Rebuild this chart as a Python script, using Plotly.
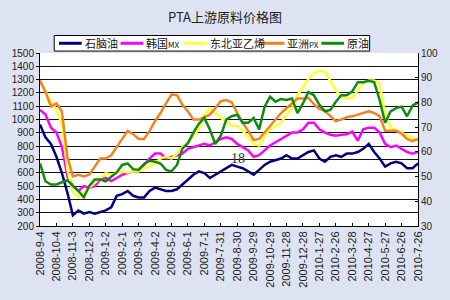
import pandas as pd
import plotly.graph_objects as go

# sample days from 2008-9-4 (every 10 days)
start = pd.Timestamp("2008-09-04")
day_offsets = list(range(0, 700, 10))
dates = [start + pd.Timedelta(days=d) for d in day_offsets]

naphtha = [963, 866, 817, 720, 598, 451, 280, 317, 293, 305, 293, 305, 317, 341, 427, 439, 463, 427, 415, 415,
           463, 488, 476, 463, 463, 476, 512, 549, 585, 610, 598, 561, 585, 610, 634, 659, 646, 634, 610, 585,
           622, 659, 683, 695, 707, 732, 707, 707, 732, 756, 768, 707, 683, 720, 732, 720, 744, 744, 756, 780,
           817, 756, 707, 646, 671, 683, 671, 634, 634, 671]
korea_mx = [1073, 1037, 939, 902, 793, 573, 500, 463, 500, 488, 500, 549, 561, 537, 561, 585, 598, 610, 622, 659,
            707, 744, 744, 707, 720, 732, 744, 780, 793, 805, 817, 805, 829, 854, 866, 854, 817, 793, 768, 720,
            732, 768, 805, 829, 854, 878, 902, 902, 927, 976, 976, 927, 902, 885, 878, 885, 890, 910, 841, 927,
            939, 939, 902, 817, 793, 805, 780, 756, 744, 756]
ne_asia_ethylene = [1293, 1207, 1134, 1073, 963, 622, 451, 415, 451, 488, 524, 561, 598, 585, 598, 610, 602, 610, 610, 634,
                    646, 671, 707, 720, 707, 744, 793, 829, 878, 927, 1037, 1085, 1049, 1012, 988, 951, 951, 915, 866, 817,
                    805, 878, 927, 951, 976, 1037, 1085, 1183, 1244, 1305, 1349, 1366, 1359, 1293, 1220, 1171, 1158, 1158, 1220, 1268,
                    1293, 1293, 1268, 1037, 939, 920, 902, 885, 861, 841]
asia_px = [1293, 1207, 1098, 1122, 1061, 720, 573, 585, 573, 585, 646, 707, 707, 732, 793, 854, 915, 890, 854, 854,
           915, 988, 1049, 1122, 1188, 1183, 1110, 1061, 1000, 1000, 1017, 1037, 1085, 1139, 1146, 1129, 1049, 976, 915, 846,
           854, 902, 951, 1000, 1049, 1085, 1122, 1159, 1159, 1163, 1115, 1080, 1066, 1024, 988, 1000, 1017, 1024, 1037, 1049,
           1061, 1049, 1024, 915, 915, 915, 895, 854, 837, 854]
crude = [55.3, 48.1, 46.8, 46.8, 47.7, 48.5, 46.2, 44.2, 41.6, 46.2, 48.8, 48.8, 48.1, 50.1, 51.7, 54.7, 55.3, 53.0, 52.7, 55.1,
         56.4, 56.0, 55.3, 52.7, 52.1, 54.7, 61.3, 63.5, 67.8, 71.4, 73.7, 69.1, 63.2, 66.5, 73.1, 74.4, 75.0, 71.8, 71.8, 73.7,
         69.1, 78.3, 82.3, 80.3, 81.4, 81.0, 81.6, 75.7, 79.6, 84.2, 82.9, 79.0, 76.4, 77.0, 80.3, 82.9, 82.9, 84.5, 88.2, 88.2,
         88.8, 88.2, 81.0, 71.8, 76.4, 77.7, 78.3, 74.4, 78.7, 80.0]

tick_labels = ["2008-9-4", "2008-10-4", "2008-11-3", "2008-12-3", "2009-1-2", "2009-2-1", "2009-3-3",
               "2009-4-2", "2009-5-2", "2009-6-1", "2009-7-1", "2009-7-31", "2009-8-30", "2009-9-29",
               "2009-10-29", "2009-11-28", "2009-12-28", "2010-1-27", "2010-2-26", "2010-3-28",
               "2010-4-27", "2010-5-27", "2010-6-26", "2010-7-26"]
tick_dates = [pd.Timestamp(t) for t in ["2008-09-04", "2008-10-04", "2008-11-03", "2008-12-03", "2009-01-02",
              "2009-02-01", "2009-03-03", "2009-04-02", "2009-05-02", "2009-06-01", "2009-07-01", "2009-07-31",
              "2009-08-30", "2009-09-29", "2009-10-29", "2009-11-28", "2009-12-28", "2010-01-27", "2010-02-26",
              "2010-03-28", "2010-04-27", "2010-05-27", "2010-06-26", "2010-07-26"]]

names = ["石脑油", "韩国MX", "东北亚乙烯", "亚洲PX", "原油"]
legend_labels = ["石脑油", "韩国<span style='font-size:8px'>MX</span>", "东北亚乙烯",
                 "亚洲<span style='font-size:8px'>PX</span>", "原油"]
colors = ["#000080", "#ff00ff", "#ffff33", "#f58220", "#108a10"]

W, H = 450, 300
ML, MR, MT, MB = 28, 23, 53, 69
PW, PH = W - ML - MR, H - MT - MB


def px_x(p):
    return (p - ML) / PW


def px_y(p):
    return (H - MB - p) / PH


fig = go.Figure()
for name, vals, col in zip(names[:4], [naphtha, korea_mx, ne_asia_ethylene, asia_px], colors[:4]):
    fig.add_trace(go.Scatter(x=dates, y=vals, name=name, mode="lines",
                             line=dict(color=col, width=2.5), showlegend=False))
fig.add_trace(go.Scatter(x=dates, y=crude, name=names[4], mode="lines", yaxis="y2",
                         line=dict(color=colors[4], width=2.5), showlegend=False))

fig.add_annotation(x=pd.Timestamp("2009-08-31"), y=711, xref="x", yref="y", text="18", showarrow=False,
                   font=dict(family="Liberation Serif", size=14, color="#333"))

# legend box (styled like the original boxed legend)
shapes = [dict(type="rect", xref="paper", yref="paper", x0=px_x(43), x1=px_x(376), y0=px_y(51), y1=px_y(35),
               fillcolor="#ffffff", line=dict(color="#000", width=1), layer="above")]
item_starts = [48, 113, 180, 262, 325]
line_len = 24
for xs, col, lab in zip(item_starts, colors, legend_labels):
    shapes.append(dict(type="line", xref="paper", yref="paper", x0=px_x(xs), x1=px_x(xs + line_len),
                       y0=px_y(43), y1=px_y(43), line=dict(color=col, width=3), layer="above"))
    fig.add_annotation(x=px_x(xs + line_len + 1), y=px_y(43), xref="paper", yref="paper", text=lab,
                       showarrow=False, xanchor="left", yanchor="middle",
                       font=dict(family="Noto Sans CJK SC", size=11, color="#111"))

fig.update_layout(
    width=W, height=H,
    margin=dict(l=ML, r=MR, t=MT, b=MB),
    paper_bgcolor="#dde3f3",
    plot_bgcolor="#ffffff",
    title=dict(text="PTA上游原料价格图", x=0.5, xanchor="center", y=0.943, yanchor="middle",
               font=dict(family="Noto Sans CJK SC", size=13, color="#222")),
    font=dict(family="Liberation Sans", size=10, color="#222"),
    showlegend=False,
    shapes=shapes,
    xaxis=dict(range=[tick_dates[0], tick_dates[-1]], tickvals=tick_dates, ticktext=tick_labels,
               tickangle=-90, tickfont=dict(size=11), showgrid=False, showline=True,
               linecolor="#000", linewidth=1, ticks="inside", ticklen=3, tickcolor="#000"),
    yaxis=dict(range=[200, 1500], dtick=100, showgrid=True, gridcolor="#111", gridwidth=1,
               showline=True, linecolor="#000", ticks="outside", ticklen=3, tickcolor="#000",
               zeroline=False),
    yaxis2=dict(range=[30, 100], dtick=10, overlaying="y", side="right", showgrid=False,
                showline=True, linecolor="#000", ticks="inside", ticklen=3, tickcolor="#000",
                zeroline=False),
)

fig.write_html("out.html")
